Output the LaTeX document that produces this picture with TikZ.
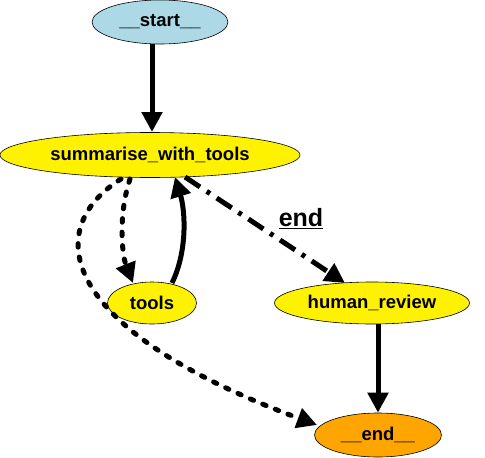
\documentclass[tikz,border=0pt]{standalone}
\usepackage{fontspec}
\setmainfont{Liberation Sans}
\usetikzlibrary{shapes.geometric,arrows.meta}
\begin{document}
\begin{tikzpicture}[x=1pt,y=-1pt,
  nodebox/.style={ellipse,draw=black,line width=0.6pt,inner sep=0pt,font=\bfseries\fontsize{18.5}{18.5}\selectfont},
  edge/.style={line width=5pt,-{Triangle[length=20pt,width=20pt]}},
  dotedge/.style={edge,line cap=round,dash pattern=on 3.5pt off 10pt},
  dashdotedge/.style={edge,dash pattern=on 18pt off 8pt on 4pt off 8pt}
]
\useasboundingbox (0,0) rectangle (485,458);
\node[nodebox,fill={rgb,255:red,173;green,216;blue,230},minimum width=136pt,minimum height=44pt] (start) at (160,22) {\_\_start\_\_};
\node[nodebox,fill=yellow,minimum width=300pt,minimum height=45pt] (sum) at (150,155) {summarise\_with\_tools};
\node[nodebox,fill=yellow,minimum width=89pt,minimum height=42pt] (tools) at (152,303) {tools};
\node[nodebox,fill=yellow,minimum width=195pt,minimum height=42pt] (hr) at (372,303) {human\_review};
\node[nodebox,fill={rgb,255:red,255;green,165;blue,0},minimum width=127pt,minimum height=44pt] (end) at (378,435) {\_\_end\_\_};
\draw[edge] (start.south -| 152,0) -- (152,132);
\draw[edge] (hr.south -| 378,0) -- (end.north -| 378,0);
\draw[dotedge] (130,179) .. controls (118,215) and (122,255) .. (133,283);
\draw[edge] (172,283) .. controls (188,250) and (185,210) .. (175,177);
\draw[dotedge] (121,179) .. controls (40,230) and (60,330) .. (317,425);
\draw[dashdotedge] (185,177) -- (345,283);
\node[font=\bfseries\fontsize{25}{25}\selectfont,inner sep=0pt] (lbl) at (301,219) {\underline{end}};
\end{tikzpicture}
\end{document}
